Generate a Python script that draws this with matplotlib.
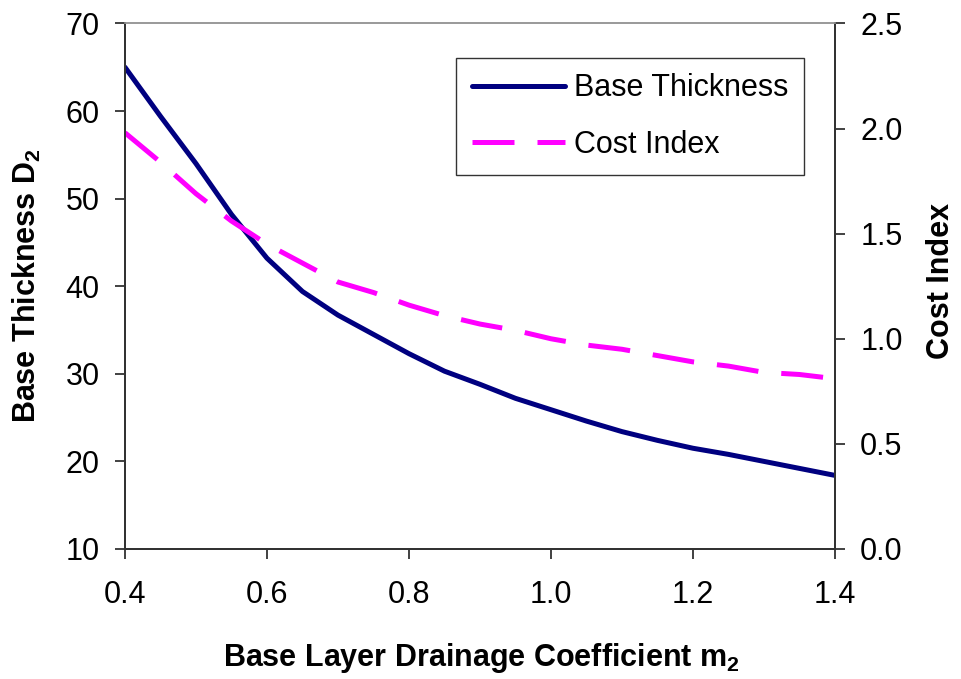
import matplotlib
matplotlib.use('Agg')
import matplotlib.pyplot as plt

plt.rcParams['font.family'] = ['Liberation Sans', 'DejaVu Sans']
plt.rcParams['mathtext.fontset'] = 'custom'
plt.rcParams['mathtext.rm'] = 'Liberation Sans'
plt.rcParams['mathtext.bf'] = 'Liberation Sans:bold'

m2 = [0.40, 0.45, 0.50, 0.55, 0.60, 0.65, 0.70, 0.75, 0.80, 0.85, 0.90,
      0.95, 1.00, 1.05, 1.10, 1.15, 1.20, 1.25, 1.30, 1.35, 1.40]
base_thickness = [65.0, 59.4, 54.0, 48.2, 43.2, 39.4, 36.7, 34.5, 32.3, 30.3, 28.8,
                  27.2, 25.9, 24.6, 23.4, 22.4, 21.5, 20.8, 20.0, 19.2, 18.4]
cost_index = [1.98, 1.84, 1.69, 1.56, 1.45, 1.36, 1.27, 1.22, 1.16, 1.11, 1.07,
              1.04, 1.00, 0.97, 0.95, 0.92, 0.89, 0.87, 0.84, 0.83, 0.81]

x_ticks = [0.4, 0.6, 0.8, 1.0, 1.2, 1.4]
left_ticks = [10, 20, 30, 40, 50, 60, 70]
right_ticks = [0.0, 0.5, 1.0, 1.5, 2.0, 2.5]

fs = 22

fig = plt.figure(figsize=(9.62, 6.79), dpi=100)
ax = fig.add_axes([0.1299, 0.1915, 0.738, 0.774])
ax2 = ax.twinx()

l1, = ax.plot(m2, base_thickness, color='#000080', lw=3.6, solid_capstyle='round',
              label='Base Thickness')
l2, = ax2.plot(m2, cost_index, color='#ff00ff', lw=3.6, dashes=(8.4, 4.6),
               label='Cost Index')

ax.set_xlim(0.4, 1.4)
ax.set_ylim(10, 70)
ax2.set_ylim(0, 2.5)
ax.set_xticks(x_ticks)
ax.set_xticklabels(['%.1f' % v for v in x_ticks])
ax.set_yticks(left_ticks)
ax2.set_yticks(right_ticks)
ax2.set_yticklabels(['%.1f' % v for v in right_ticks])

for a in (ax, ax2):
    a.tick_params(labelsize=fs, length=7.2, width=1.3, direction='out', color='#333333')
    for s in ('left', 'right', 'bottom'):
        a.spines[s].set_linewidth(1.4)
        a.spines[s].set_color('#333333')
    a.spines['top'].set_color('#999999')
    a.spines['top'].set_linewidth(1.2)
ax.tick_params(axis='x', pad=15)
ax.tick_params(axis='y', pad=11)
ax2.tick_params(axis='y', pad=11)

ax.set_xlabel(r'Base Layer Drainage Coefficient $\mathbf{m_2}$', fontsize=fs,
              fontweight='bold')
ax.xaxis.set_label_coords(0.502, -0.176)
ax.set_ylabel(r'Base Thickness $\mathbf{D_2}$', fontsize=fs, fontweight='bold')
ax.yaxis.set_label_coords(-0.1155, 0.5)
ax2.set_ylabel('Cost Index', fontsize=fs, fontweight='bold')
ax2.yaxis.set_label_coords(1.128, 0.51)

leg = ax.legend(handles=[l1, l2], loc='upper right', bbox_to_anchor=(0.956, 0.934),
                fontsize=fs, frameon=True, fancybox=False, handlelength=3.05,
                handletextpad=0.3, borderpad=0.5, labelspacing=0.86, borderaxespad=0)
leg.get_frame().set_edgecolor('black')
leg.get_frame().set_linewidth(1.0)

fig.savefig('out.png', dpi=100)
